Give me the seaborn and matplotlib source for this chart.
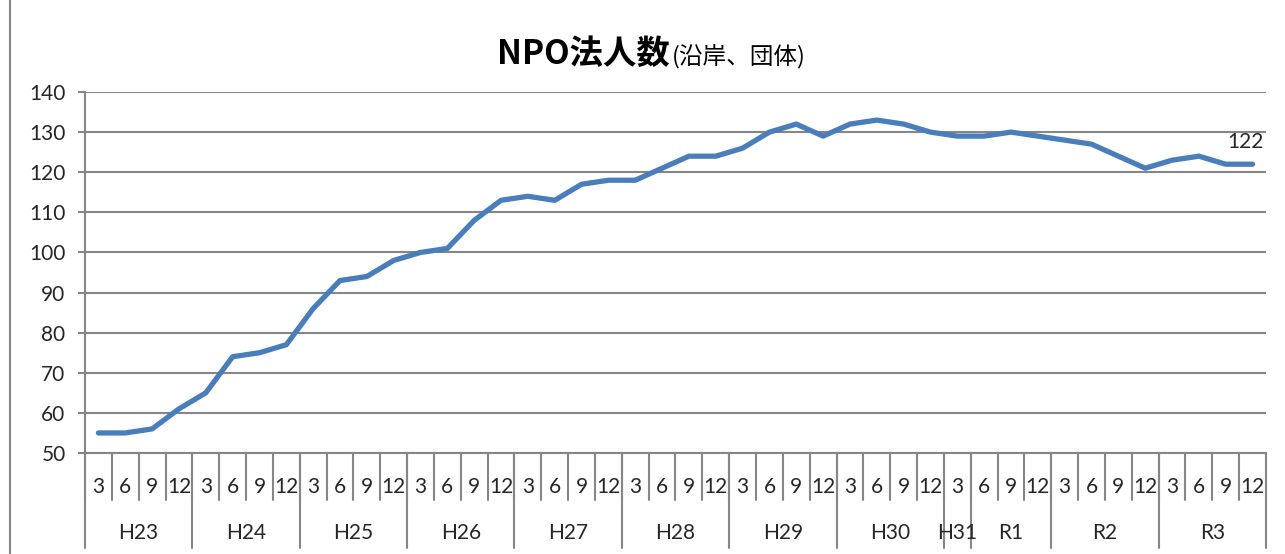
import matplotlib
matplotlib.use("Agg")
import matplotlib.pyplot as plt
import matplotlib.transforms as mtransforms
from matplotlib.patches import Rectangle
import pandas as pd
import seaborn as sns

# Fiscal-year groups and the quarter-end months recorded within each
years = ["H23", "H24", "H25", "H26", "H27", "H28", "H29", "H30", "H31", "R1", "R2", "R3"]
months_per_year = [
    [3, 6, 9, 12], [3, 6, 9, 12], [3, 6, 9, 12], [3, 6, 9, 12],
    [3, 6, 9, 12], [3, 6, 9, 12], [3, 6, 9, 12], [3, 6, 9, 12],
    [3], [6, 9, 12], [3, 6, 9, 12], [3, 6, 9, 12],
]
# Number of NPO corporations at each quarter end
npo_counts = [
    55, 55, 56, 61, 65, 74, 75, 77, 86, 93, 94, 98,
    100, 101, 108, 113, 114, 113, 117, 118, 118, 121, 124, 124,
    126, 130, 132, 129, 132, 133, 132, 130, 129, 129, 130, 129,
    128, 127, 124, 121, 123, 124, 122, 122,
]
y_ticks = list(range(50, 141, 10))

rows = []
for yr, months in zip(years, months_per_year):
    for m in months:
        rows.append({"year": yr, "month": m})
df = pd.DataFrame(rows)
df["pos"] = range(len(df))
df["count"] = npo_counts

sns.set_theme(style="white")
plt.rcParams["font.family"] = ["Lato", "Noto Sans CJK JP", "DejaVu Sans"]

GRID = "#868686"
TEXT = "#262626"
LINE = "#4A7EBB"

fig = plt.figure(figsize=(12.85, 5.54), dpi=100)
fig.patch.set_facecolor("white")

# outer chart frame (only its left and top edges fall inside the figure)
fig.patches.append(Rectangle((10 / 1285, -0.2), 1.2, 1.2 + (1 - 12 / 554),
                             transform=fig.transFigure, fill=False,
                             edgecolor=GRID, linewidth=1.5))

ax = fig.add_axes([85 / 1285, 1 - 453 / 554, (1266 - 85) / 1285, (453 - 92) / 554])

sns.lineplot(data=df, x="pos", y="count", color=LINE, linewidth=3.8, ax=ax)

ax.set_xlim(-0.5, len(df) - 0.5)
ax.set_ylim(y_ticks[0], y_ticks[-1])
ax.set_yticks(y_ticks)
ax.set_xticks([])
ax.set_xlabel("")
ax.set_ylabel("")
ax.yaxis.grid(True, color=GRID, linewidth=1.5)
ax.set_axisbelow(True)
for side in ["top", "right"]:
    ax.spines[side].set_visible(False)
for side in ["left", "bottom"]:
    ax.spines[side].set_color(GRID)
    ax.spines[side].set_linewidth(1.5)
ax.tick_params(axis="y", left=True, length=5, width=1.5, color=GRID,
               labelsize=15, labelcolor=TEXT, pad=9)

# two-level category axis drawn below the plot
trans = mtransforms.blended_transform_factory(ax.transData, ax.transAxes)
minor_bottom = -47 / 361
major_bottom = -95 / 361
for p in df["pos"]:
    ax.plot([p - 0.5, p - 0.5], [0, minor_bottom], transform=trans,
            color=GRID, linewidth=1.5, clip_on=False)
    ax.text(p, -34 / 361, str(df.loc[p, "month"]), transform=trans,
            ha="center", va="center", fontsize=15, color=TEXT)

bounds = df.groupby("year", sort=False)["pos"].agg(["min", "max"])
for yr, (lo, hi) in bounds.iterrows():
    ax.plot([lo - 0.5, lo - 0.5], [0, major_bottom], transform=trans,
            color=GRID, linewidth=1.5, clip_on=False)
    ax.text((lo + hi) / 2, -80 / 361, yr, transform=trans,
            ha="center", va="center", fontsize=15, color=TEXT)
last = len(df) - 0.5
ax.plot([last, last], [0, major_bottom], transform=trans,
        color=GRID, linewidth=1.5, clip_on=False)

# value label on the latest point
ax.annotate(str(npo_counts[-1]), xy=(df["pos"].iloc[-1], npo_counts[-1]),
            xytext=(-5, 16), textcoords="offset points",
            ha="center", va="center", fontsize=15, color=TEXT)

# title: main text in bold, qualifier in a smaller regular weight
fig.text(670 / 1285, 1 - 64 / 554, "NPO法人数", ha="right", va="baseline",
         fontsize=24, fontweight="bold", color="black",
         family=["Noto Sans CJK JP", "DejaVu Sans"])
fig.text(672 / 1285, 1 - 64 / 554, "(沿岸、団体)", ha="left", va="baseline",
         fontsize=17, color="black",
         family=["Noto Sans CJK JP", "DejaVu Sans"])

fig.savefig("out.png", dpi=100, facecolor="white")
